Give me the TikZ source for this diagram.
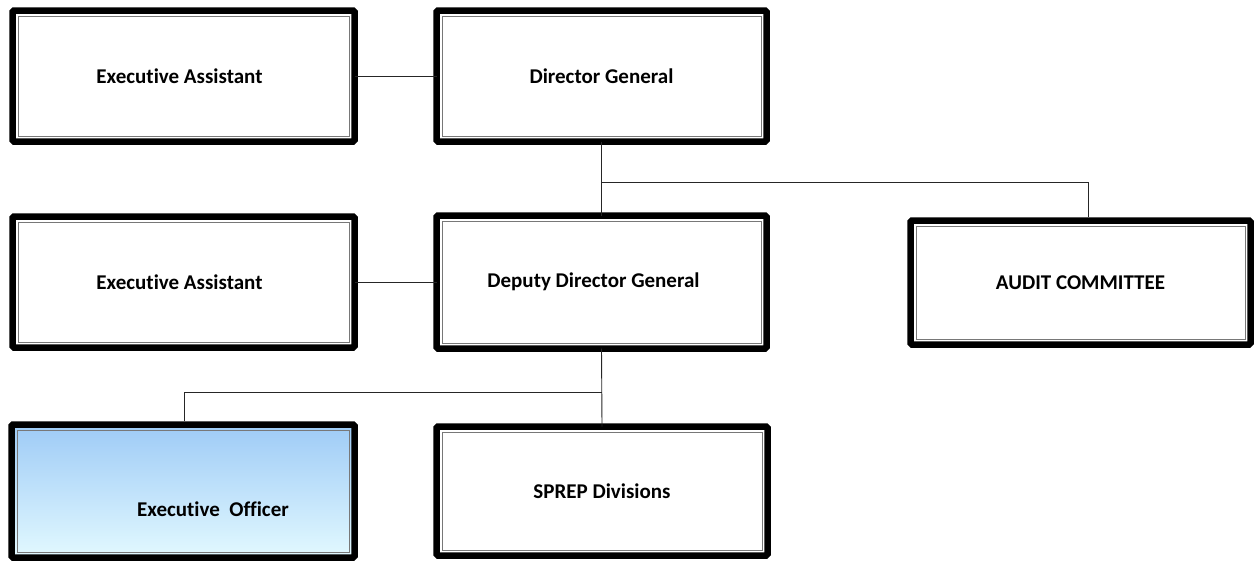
\documentclass[tikz,border=0pt]{standalone}
\usepackage{fontspec}
\setmainfont{Carlito}[Ligatures={NoCommon}]
\definecolor{eotop}{RGB}{158,203,246}
\definecolor{eobot}{RGB}{226,249,255}
\definecolor{inner}{RGB}{120,120,120}
\begin{document}
\begin{tikzpicture}[x=1pt,y=-1pt,
  boxfont/.style={font=\bfseries\fontsize{21}{24}\selectfont},
  orgbox/.style={draw=black, line width=6.5pt, rounded corners=1.5pt, inner sep=0pt, outer sep=0pt, boxfont},
  innerline/.style={draw=inner, line width=1pt},
  link/.style={draw=black!85, line width=0.9pt}
]
\useasboundingbox (0,0) rectangle (1255,560);
\coordinate (j1) at (601.5,182);
\coordinate (j2) at (601.5,392);
\coordinate (audtop) at (1088,217);
\coordinate (eotop) at (184,421);

\node[orgbox, minimum width=342pt, minimum height=131pt] (ea1) at (183.5,76) {\hspace*{-8pt}Executive Assistant};
\node[orgbox, minimum width=330pt, minimum height=131pt] (dg) at (601.5,76) {Director General};
\node[orgbox, minimum width=342pt, minimum height=131pt] (ea2) at (183.5,282) {\hspace*{-8pt}Executive Assistant};
\node[orgbox, minimum width=330pt, minimum height=133pt] (ddg) at (601.5,282) {\hspace*{-16pt}Deputy Director General};
\node[orgbox, minimum width=340pt, minimum height=124pt] (aud) at (1080.5,282.5) {AUDIT COMMITTEE};
\node[orgbox, minimum width=343pt, minimum height=133pt, top color=eotop, bottom color=eobot] (eo) at (183,491) {};
\node[boxfont, inner sep=0pt] (eotext) at (213,509) {Executive\ \ Officer};
\node[orgbox, minimum width=331pt, minimum height=129pt] (sp) at (602,491) {SPREP Divisions};

\foreach \n in {ea1,dg,ea2,ddg,aud,eo,sp}{
  \draw[innerline] ([xshift=5.5pt,yshift=-5.5pt]\n.north west) rectangle ([xshift=-5.5pt,yshift=5.5pt]\n.south east);
}

\draw[link] (ea1.east) -- (dg.west);
\draw[link] (ea2.east) -- (ddg.west);
\draw[link] (dg.south) -- (ddg.north);
\draw[link] (j1) -| (audtop);
\draw[link] (ddg.south) -- (sp.north);
\draw[link] (j2) -| (eotop);
\end{tikzpicture}
\end{document}
